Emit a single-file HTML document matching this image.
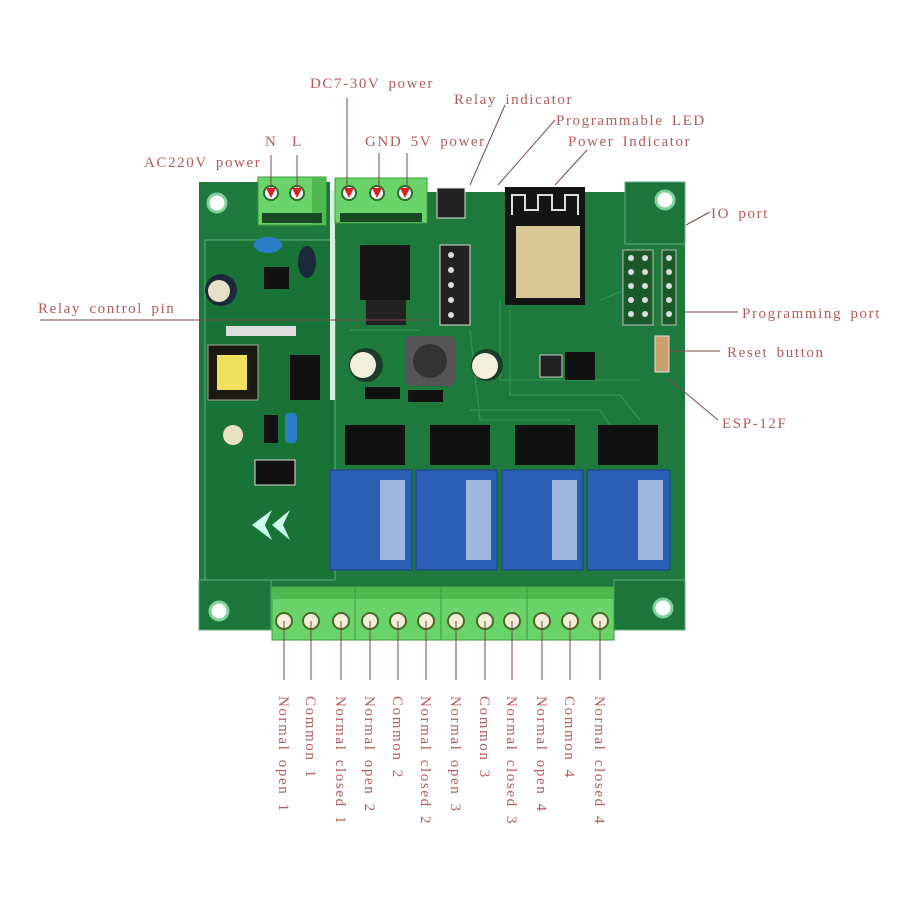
<!DOCTYPE html>
<html><head><meta charset="utf-8">
<style>
html,body{margin:0;padding:0;background:#fff;}
svg{display:block;}
text{font-family:"Liberation Serif",serif;fill:#b85a5a;font-size:15px;letter-spacing:1.6px;word-spacing:3px;}
</style></head><body>
<svg width="900" height="900" viewBox="0 0 900 900" xmlns="http://www.w3.org/2000/svg">
<rect x="199" y="182" width="486" height="448" fill="#1e7a3c"/>
<rect x="330" y="182" width="295" height="10" fill="#fff"/>
<rect x="205" y="240" width="130" height="340" fill="#1a7336" stroke="#5fae7a" stroke-width="1"/>
<rect x="330" y="190" width="5" height="210" fill="#d8efe0"/>
<rect x="625" y="182" width="60" height="62" fill="#1c7639" stroke="#5fae7a" stroke-width="1"/>
<rect x="199" y="580" width="72" height="50" fill="#1c7639" stroke="#5fae7a" stroke-width="1"/>
<rect x="614" y="580" width="71" height="50" fill="#1c7639" stroke="#5fae7a" stroke-width="1"/>
<g fill="#fff" stroke="#7fd09a" stroke-width="3">
<circle cx="217" cy="203" r="9"/><circle cx="665" cy="200" r="9"/>
<circle cx="219" cy="611" r="9"/><circle cx="663" cy="608" r="9"/>
</g>
<g fill="none" stroke="#2f9a52" stroke-width="1.5" opacity="0.8">
<path d="M500 300 L500 380 L640 380"/><path d="M510 310 L510 395 L620 395 L640 420"/>
<path d="M470 410 L600 410 L620 440"/><path d="M350 330 L420 330"/>
<path d="M470 330 L480 420 L570 420"/><path d="M600 300 L650 280"/>
</g>
<rect x="258" y="177" width="68" height="48" fill="#6ad46a" stroke="#3f9a3f"/>
<rect x="312" y="177" width="14" height="48" fill="#4fb94f"/>
<rect x="335" y="178" width="92" height="45" fill="#6ad46a" stroke="#3f9a3f"/>
<g fill="#fff" stroke="#2f6a2f" stroke-width="2">
<circle cx="271" cy="193" r="7"/><circle cx="297" cy="193" r="7"/>
<circle cx="349" cy="193" r="7"/><circle cx="377" cy="193" r="7"/><circle cx="405" cy="193" r="7"/>
</g>
<g fill="#e02020">
<path d="M266 188 L276 188 L271 198Z"/><path d="M292 188 L302 188 L297 198Z"/>
<path d="M344 188 L354 188 L349 198Z"/><path d="M372 188 L382 188 L377 198Z"/><path d="M400 188 L410 188 L405 198Z"/>
</g>
<rect x="262" y="213" width="60" height="10" fill="#174a22"/>
<rect x="340" y="213" width="82" height="9" fill="#174a22"/>
<ellipse cx="268" cy="245" rx="14" ry="8" fill="#2b7fc9"/>
<ellipse cx="307" cy="262" rx="9" ry="16" fill="#1a2a3a"/>
<circle cx="221" cy="290" r="16" fill="#1a2a3a"/><circle cx="219" cy="291" r="11" fill="#e8e0c8"/>
<rect x="264" y="267" width="25" height="22" fill="#111"/>
<rect x="226" y="326" width="70" height="10" fill="#ddd"/>
<rect x="208" y="345" width="50" height="55" fill="#1a1a10" stroke="#aa9"/>
<rect x="217" y="355" width="30" height="35" fill="#f0e060"/>
<rect x="290" y="355" width="30" height="45" fill="#111"/>
<circle cx="233" cy="435" r="10" fill="#e8e0c0"/>
<rect x="264" y="415" width="14" height="28" fill="#111"/>
<rect x="285" y="413" width="12" height="30" rx="4" fill="#2b7fc9"/>
<rect x="255" y="460" width="40" height="25" fill="#111" stroke="#ddd"/>
<rect x="360" y="245" width="50" height="55" fill="#151515"/>
<rect x="366" y="300" width="40" height="25" fill="#222"/>
<rect x="440" y="245" width="30" height="80" fill="#222" stroke="#ddd"/>
<circle cx="366" cy="365" r="17" fill="#1b3b2b"/><circle cx="363" cy="365" r="13" fill="#f4eedc"/>
<rect x="405" y="336" width="50" height="50" rx="6" fill="#555"/><circle cx="430" cy="361" r="17" fill="#333"/>
<circle cx="487" cy="365" r="16" fill="#1b3b2b"/><circle cx="485" cy="366" r="13" fill="#f4eedc"/>
<rect x="365" y="387" width="35" height="12" fill="#111"/><rect x="408" y="390" width="35" height="12" fill="#111"/>
<rect x="565" y="352" width="30" height="28" fill="#111"/>
<rect x="540" y="355" width="22" height="22" fill="#222" stroke="#ccc"/>
<rect x="505" y="187" width="80" height="118" fill="#141414"/>
<path d="M512 215 L512 195 L525 195 L525 210 L538 210 L538 195 L552 195 L552 210 L565 210 L565 195 L578 195 L578 215" fill="none" stroke="#ddd" stroke-width="2"/>
<rect x="516" y="226" width="64" height="72" fill="#d8c898"/>
<rect x="623" y="250" width="30" height="75" fill="#1a5a2a" stroke="#bbb"/>
<rect x="662" y="250" width="14" height="75" fill="#1a5a2a" stroke="#bbb"/>
<g fill="#ddd"><circle cx="631" cy="258" r="3"/><circle cx="645" cy="258" r="3"/><circle cx="631" cy="272" r="3"/><circle cx="645" cy="272" r="3"/><circle cx="631" cy="286" r="3"/><circle cx="645" cy="286" r="3"/><circle cx="631" cy="300" r="3"/><circle cx="645" cy="300" r="3"/><circle cx="631" cy="314" r="3"/><circle cx="645" cy="314" r="3"/>
<circle cx="669" cy="258" r="3"/><circle cx="669" cy="272" r="3"/><circle cx="669" cy="286" r="3"/><circle cx="669" cy="300" r="3"/><circle cx="669" cy="314" r="3"/>
<circle cx="451" cy="255" r="3"/><circle cx="451" cy="270" r="3"/><circle cx="451" cy="285" r="3"/><circle cx="451" cy="300" r="3"/><circle cx="451" cy="315" r="3"/></g>
<rect x="655" y="336" width="14" height="36" fill="#caa070" stroke="#ddd"/>
<rect x="437" y="188" width="28" height="30" fill="#222" stroke="#ddd"/>
<g fill="#111"><rect x="345" y="425" width="60" height="40"/><rect x="430" y="425" width="60" height="40"/><rect x="515" y="425" width="60" height="40"/><rect x="598" y="425" width="60" height="40"/></g>
<g fill="#2a5fb5" stroke="#1a3f8a">
<rect x="330" y="470" width="82" height="100"/><rect x="416" y="470" width="81" height="100"/>
<rect x="502" y="470" width="81" height="100"/><rect x="587" y="470" width="83" height="100"/>
</g>
<g fill="#ffffff" opacity="0.55">
<rect x="380" y="480" width="25" height="80"/><rect x="466" y="480" width="25" height="80"/><rect x="552" y="480" width="25" height="80"/><rect x="638" y="480" width="25" height="80"/>
</g>
<path d="M252 525 L272 510 L265 525 L272 540Z M272 525 L290 510 L283 525 L290 540Z" fill="#cfe"/>
<rect x="272" y="587" width="342" height="53" fill="#6ad46a" stroke="#3f9a3f"/>
<rect x="272" y="587" width="342" height="12" fill="#4fb94f"/>
<g stroke="#3f9a3f"><line x1="355" y1="587" x2="355" y2="640"/><line x1="441" y1="587" x2="441" y2="640"/><line x1="527" y1="587" x2="527" y2="640"/></g>
<g fill="#f2ecd8" stroke="#4a6a2a" stroke-width="2">
<circle cx="284" cy="621" r="8"/><circle cx="311" cy="621" r="8"/><circle cx="341" cy="621" r="8"/>
<circle cx="370" cy="621" r="8"/><circle cx="398" cy="621" r="8"/><circle cx="426" cy="621" r="8"/>
<circle cx="456" cy="621" r="8"/><circle cx="485" cy="621" r="8"/><circle cx="512" cy="621" r="8"/>
<circle cx="542" cy="621" r="8"/><circle cx="570" cy="621" r="8"/><circle cx="600" cy="621" r="8"/>
</g>
<g stroke="#7a4a4a" stroke-width="1" fill="none">
<line x1="271" y1="155" x2="271" y2="190"/><line x1="297" y1="155" x2="297" y2="190"/>
<line x1="347" y1="98" x2="347" y2="190"/><line x1="379" y1="153" x2="379" y2="190"/><line x1="407" y1="153" x2="407" y2="190"/>
<path d="M505 105 L470 185"/><path d="M555 120 L498 185"/><path d="M587 150 L555 185"/>
<path d="M710 212 L686 225"/><path d="M40 320 L205 320 L430 320"/>
<line x1="685" y1="312" x2="738" y2="312"/><line x1="670" y1="351" x2="720" y2="351"/>
<path d="M670 380 L718 420"/>
<line x1="284" y1="621" x2="284" y2="680"/><line x1="311" y1="621" x2="311" y2="680"/><line x1="341" y1="621" x2="341" y2="680"/>
<line x1="370" y1="621" x2="370" y2="680"/><line x1="398" y1="621" x2="398" y2="680"/><line x1="426" y1="621" x2="426" y2="680"/>
<line x1="456" y1="621" x2="456" y2="680"/><line x1="485" y1="621" x2="485" y2="680"/><line x1="512" y1="621" x2="512" y2="680"/>
<line x1="542" y1="621" x2="542" y2="680"/><line x1="570" y1="621" x2="570" y2="680"/><line x1="600" y1="621" x2="600" y2="680"/>
</g>
<text x="310" y="88">DC7-30V power</text>
<text x="454" y="104">Relay indicator</text>
<text x="556" y="125">Programmable LED</text>
<text x="568" y="146">Power Indicator</text>
<text x="265" y="146">N</text><text x="292" y="146">L</text>
<text x="365" y="146">GND 5V power</text>
<text x="144" y="167">AC220V power</text>
<text x="711" y="218">IO port</text>
<text x="38" y="313">Relay control pin</text>
<text x="742" y="318">Programming port</text>
<text x="727" y="357">Reset button</text>
<text x="722" y="428">ESP-12F</text>
<g>
<text transform="translate(279,696) rotate(90)">Normal open 1</text>
<text transform="translate(306,696) rotate(90)">Common 1</text>
<text transform="translate(336,696) rotate(90)">Normal closed 1</text>
<text transform="translate(365,696) rotate(90)">Normal open 2</text>
<text transform="translate(393,696) rotate(90)">Common 2</text>
<text transform="translate(421,696) rotate(90)">Normal closed 2</text>
<text transform="translate(451,696) rotate(90)">Normal open 3</text>
<text transform="translate(480,696) rotate(90)">Common 3</text>
<text transform="translate(507,696) rotate(90)">Normal closed 3</text>
<text transform="translate(537,696) rotate(90)">Normal open 4</text>
<text transform="translate(565,696) rotate(90)">Common 4</text>
<text transform="translate(595,696) rotate(90)">Normal closed 4</text>
</g>
</svg>
</body></html>
